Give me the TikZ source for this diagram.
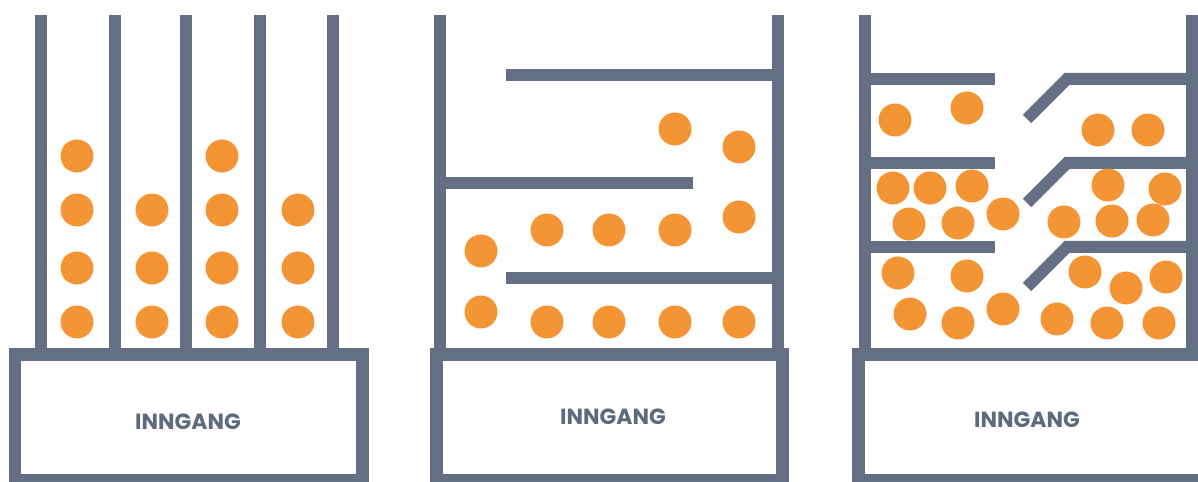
\documentclass[tikz,border=0pt]{standalone}
\usepackage{fontspec}
\newfontfamily\labelfont{Poppins}
\definecolor{rackEdge}{HTML}{646F84}
\definecolor{ballFill}{HTML}{F39435}
\definecolor{labelText}{HTML}{5E6A7D}
\newcommand{\FigLabel}{\labelfont\bfseries\fontsize{12.5}{14}\selectfont}

\begin{document}
\begin{tikzpicture}[
  x=0.02cm, y=-0.02cm,
  wall/.style = {draw=rackEdge, line width=2.4mm},
  base/.style = {draw=rackEdge, line width=2.6mm, fill=white},
  ball/.style = {fill=ballFill},
  tag/.style  = {font=\FigLabel, text=labelText, inner sep=0pt},
]
\useasboundingbox (0,0) rectangle (1198,482);
\clip (0,0) rectangle (1198,482);

% ---------------------------------------------------------------- (1) one lane per item
\foreach \x in {41,115,186,260,333} {
  \draw[wall] (\x,15) -- (\x,352);
}
\foreach \x/\y in {77/156, 77/210, 77/268, 77/322,
                   152/210, 152/268, 152/322,
                   222/156, 222/210, 222/268, 222/322,
                   298/210, 298/268, 298/322} {
  \fill[ball] (\x,\y) circle[radius=3.3mm];
}
\draw[base] (15,355) rectangle (362,481);
\node[tag] (inn1) at (188,422) {INNGANG};

% ---------------------------------------------------------------- (2) one long winding lane
\draw[wall] (440,15) -- (440,352);
\draw[wall] (778,15) -- (778,352);
\draw[wall] (506,75)  -- (778,75);
\draw[wall] (440,183) -- (693,183);
\draw[wall] (506,278) -- (778,278);
\foreach \x/\y in {675/129, 739/147, 739/217,
                   547/230, 609/230, 675/230, 481/251,
                   481/312, 547/322, 609/322, 675/322, 739/322} {
  \fill[ball] (\x,\y) circle[radius=3.3mm];
}
\draw[base] (436,355) rectangle (782,481);
\node[tag] (inn2) at (613,417) {INNGANG};

% ---------------------------------------------------------------- (3) shelves with slanted gates
\draw[wall] (865,15) -- (865,352);
\draw[wall] (1192,15) -- (1192,352);
\foreach \y in {79,163,247} {
  \draw[wall] (865,\y) -- (995,\y);
  \draw[wall] (1027,\y+40) -- (1067,\y) -- (1192,\y);
}
\foreach \x/\y in {895/120, 967/108, 1098/130, 1148/130,
                   893/188, 930/188, 972/186, 1108/185, 1165/189,
                   909/224, 958/223, 1003/214, 1064/222, 1112/221, 1153/220,
                   898/273, 967/276, 1085/272, 1126/288, 1166/277,
                   910/314, 958/323, 1003/309, 1057/319, 1107/323, 1159/323} {
  \fill[ball] (\x,\y) circle[radius=3.3mm];
}
\draw[base] (858,355) rectangle (1204,481);
\node[tag] (inn3) at (1027,420) {INNGANG};

\end{tikzpicture}
\end{document}
